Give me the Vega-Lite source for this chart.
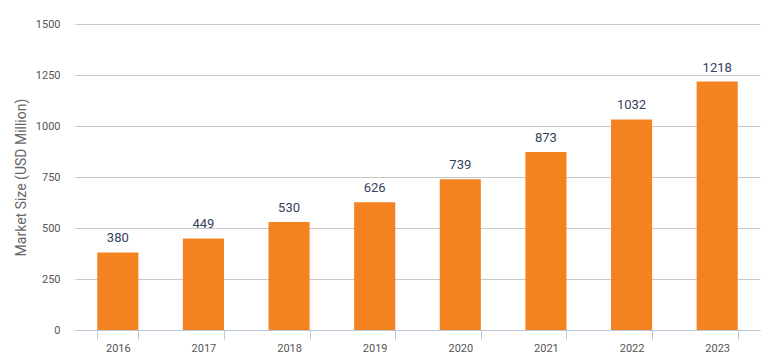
{
  "$schema": "https://vega.github.io/schema/vega-lite/v6.json",
  "width": 685,
  "height": 306,
  "autosize": {"type": "none"},
  "padding": {"left": 75, "top": 24, "right": 10, "bottom": 33},
  "background": "white",
  "config": {
    "view": {"stroke": null},
    "font": "Roboto"
  },
  "data": {
    "values": [
      {"year": "2016", "value": 380},
      {"year": "2017", "value": 449},
      {"year": "2018", "value": 530},
      {"year": "2019", "value": 626},
      {"year": "2020", "value": 739},
      {"year": "2021", "value": 873},
      {"year": "2022", "value": 1032},
      {"year": "2023", "value": 1218}
    ]
  },
  "encoding": {
    "x": {
      "field": "year",
      "type": "nominal",
      "scale": {"paddingInner": 0.52, "paddingOuter": 0.26},
      "axis": {
        "title": null,
        "labelAngle": 0,
        "labelFont": "Roboto",
        "labelFontSize": 11,
        "labelColor": "#555555",
        "labelPadding": 3,
        "domainColor": "#b8c8da",
        "tickColor": "#b8c8da",
        "tickSize": 9,
        "tickBand": "extent",
        "grid": false
      }
    },
    "y": {
      "field": "value",
      "type": "quantitative",
      "scale": {"domain": [0, 1500]},
      "axis": {
        "values": [0, 250, 500, 750, 1000, 1250, 1500],
        "format": "d",
        "title": "Market Size (USD Million)",
        "titleFont": "Roboto",
        "titleFontSize": 14,
        "titleFontWeight": "normal",
        "titleColor": "#666666",
        "titlePadding": 7,
        "labelFont": "Roboto",
        "labelFontSize": 11,
        "labelColor": "#555555",
        "labelPadding": 15,
        "domain": false,
        "ticks": false,
        "gridColor": "#c8c8c8",
        "labelBound": false,
        "labelFlush": false
      }
    }
  },
  "layer": [
    {"mark": {"type": "bar", "color": "#F58220"}},
    {
      "mark": {"type": "text", "baseline": "bottom", "dy": -7, "fontSize": 13, "font": "Roboto", "color": "#34415e"},
      "encoding": {"text": {"field": "value", "type": "quantitative"}}
    }
  ]
}
